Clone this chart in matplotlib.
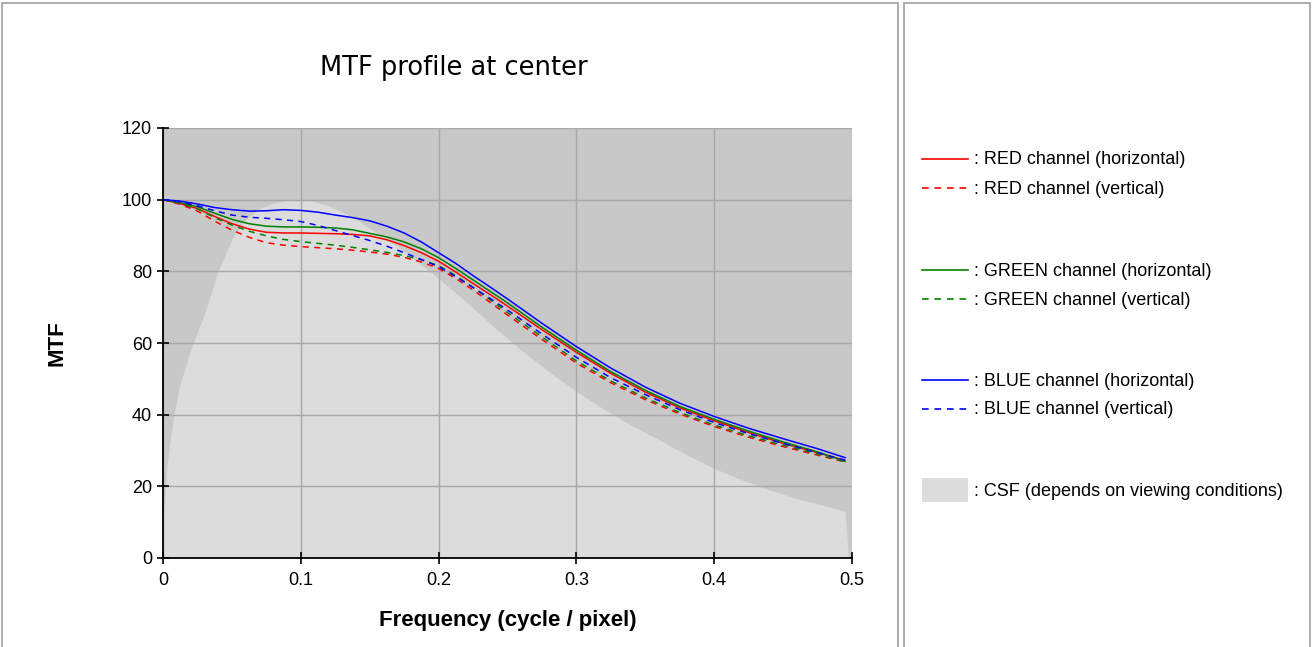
import matplotlib
matplotlib.use("Agg")
import matplotlib.pyplot as plt
from matplotlib.lines import Line2D
from matplotlib.patches import Rectangle

# frequency samples (cycle / pixel)
freq = [0, 0.0125, 0.025, 0.0375, 0.05, 0.0625, 0.075, 0.0875, 0.1, 0.1125,
        0.125, 0.1375, 0.15, 0.1625, 0.175, 0.1875, 0.2, 0.2125, 0.225,
        0.2375, 0.25, 0.275, 0.3, 0.325, 0.35, 0.375, 0.4, 0.425, 0.45,
        0.475, 0.495]

red_h = [100, 98.9, 97.5, 95.3, 93.3, 91.8, 90.9, 90.7, 90.7, 90.6, 90.5,
         90.3, 89.9, 88.8, 87.2, 85.2, 82.8, 79.8, 76.6, 73.5, 70.3,
         63.7, 57.4, 51.5, 46.3, 41.9, 38.3, 35.0, 32.0, 29.4, 27.2]
red_v = [100, 98.7, 96.8, 94.0, 91.5, 89.5, 88.0, 87.3, 86.9, 86.6, 86.3,
         85.9, 85.4, 84.8, 83.9, 82.6, 80.8, 78.0, 74.8, 71.3, 67.8,
         61.0, 54.4, 48.9, 44.2, 40.2, 36.7, 33.7, 31.1, 28.7, 26.8]
green_h = [100, 99.2, 98.0, 96.2, 94.5, 93.3, 92.6, 92.4, 92.4, 92.3, 92.1,
           91.6, 90.6, 89.6, 88.2, 86.3, 83.8, 80.8, 77.6, 74.4, 71.2,
           64.4, 58.0, 52.0, 46.8, 42.3, 38.7, 35.4, 32.4, 29.6, 27.0]
green_v = [100, 99.0, 97.4, 95.0, 92.9, 91.2, 89.9, 88.9, 88.3, 87.8, 87.3,
           86.7, 86.0, 85.3, 84.4, 83.2, 81.6, 78.8, 75.5, 72.0, 68.5,
           61.7, 55.0, 49.4, 44.7, 40.6, 37.1, 34.1, 31.5, 29.0, 26.9]
blue_h = [100, 99.6, 98.8, 97.8, 97.2, 96.8, 96.9, 97.2, 97.0, 96.5, 95.7,
          95.0, 94.1, 92.6, 90.7, 88.2, 85.2, 82.2, 78.8, 75.6, 72.3,
          65.5, 59.0, 53.0, 47.7, 43.2, 39.5, 36.2, 33.3, 30.5, 28.0]
blue_v = [100, 99.4, 98.3, 96.9, 95.7, 95.1, 94.8, 94.4, 93.9, 92.8, 91.4,
          90.0, 88.6, 87.0, 85.2, 83.3, 81.3, 78.5, 75.5, 72.4, 69.2,
          62.5, 56.0, 50.3, 45.6, 41.4, 37.8, 34.7, 32.0, 29.4, 27.3]

# contrast sensitivity function (scaled to 100)
csf_freq = [0, 0.003, 0.007, 0.012, 0.02, 0.03, 0.04, 0.05, 0.06, 0.07, 0.08,
            0.09, 0.1, 0.11, 0.12, 0.13, 0.14, 0.15, 0.16, 0.17, 0.18, 0.19,
            0.2, 0.22, 0.24, 0.26, 0.28, 0.3, 0.32, 0.34, 0.36, 0.38, 0.4,
            0.42, 0.44, 0.46, 0.48, 0.495, 0.4975]
csf = [10, 26, 38, 48, 58, 68, 80, 89, 94.5, 97.5, 99, 99.8, 100, 99.5, 98.3,
       96.5, 94.5, 92, 89.5, 87, 84, 81, 78, 71.5, 64.5, 58, 52, 46.5, 41.5,
       37, 33, 28.8, 25, 21.8, 19, 16.6, 14.6, 13, 0]

DASH = (0, (4, 3.5))
SERIES = [
    ("RED channel (horizontal)", red_h, "#ff0000", "-"),
    ("RED channel (vertical)", red_v, "#ff0000", DASH),
    ("GREEN channel (horizontal)", green_h, "#008000", "-"),
    ("GREEN channel (vertical)", green_v, "#008000", DASH),
    ("BLUE channel (horizontal)", blue_h, "#0000ff", "-"),
    ("BLUE channel (vertical)", blue_v, "#0000ff", DASH),
]

plt.rcParams["font.family"] = ["Liberation Sans", "DejaVu Sans"]

W, H = 1314, 647
fig = plt.figure(figsize=(W / 100, H / 100), dpi=100)

# panel frames
for x0, x1 in [(2, 898), (904, 1310)]:
    fig.add_artist(Rectangle((x0 / W, -0.05), (x1 - x0) / W, (H - 3) / H + 0.05,
                             transform=fig.transFigure, fill=False,
                             ec="#a0a0a0", lw=1.2))

ax = fig.add_axes([163 / W, (H - 558) / H, (852 - 163) / W, (558 - 128) / H])
ax.set_facecolor("#c8c8c8")
ax.fill_between(csf_freq, 0, csf, color="#dcdcdc", lw=0, zorder=1)
for label, ys, color, ls in SERIES:
    ax.plot(freq, ys, color=color, ls=ls, lw=1.1, zorder=3)

ax.set_xlim(0, 0.5)
ax.set_ylim(0, 120)
ax.set_xticks([0, 0.1, 0.2, 0.3, 0.4, 0.5])
ax.set_xticklabels(["0", "0.1", "0.2", "0.3", "0.4", "0.5"])
ax.set_yticks(range(0, 121, 20))
ax.grid(True, color="#a8a8a8", lw=1, zorder=2)
ax.set_axisbelow(False)
for s in ["top", "right"]:
    ax.spines[s].set_visible(False)
for s in ["left", "bottom"]:
    ax.spines[s].set_linewidth(1.3)
    ax.spines[s].set_zorder(4)
ax.tick_params(direction="inout", length=8, width=1.2, labelsize=13)
ax.tick_params(axis="x", pad=6)
ax.tick_params(axis="y", pad=4)

ax.set_xlabel("Frequency (cycle / pixel)", fontsize=16, fontweight="bold",
              labelpad=15)
ax.set_ylabel("MTF", fontsize=16, fontweight="bold", labelpad=39)
fig.text(454 / W, 1 - 68 / H, "MTF profile at center", fontsize=18.5,
         ha="center", va="center", family="DejaVu Sans")

# legend panel
rows = [159, 188, 270, 299, 380, 409]
for (label, ys, color, ls), y in zip(SERIES, rows):
    fy = 1 - y / H
    fig.add_artist(Line2D([922 / W, 968 / W], [fy, fy], color=color, ls=ls,
                          lw=1.2, transform=fig.transFigure))
    fig.text(974 / W, fy - 1 / H, ": " + label, fontsize=13, ha="left",
             va="center")
fy = 1 - 490 / H
fig.add_artist(Rectangle((922 / W, fy - 12 / H), 46 / W, 24 / H,
                         transform=fig.transFigure, color="#dcdcdc", lw=0))
fig.text(974 / W, fy - 1 / H, ": CSF (depends on viewing conditions)",
         fontsize=13, ha="left", va="center")

fig.savefig("out.png", dpi=100)
